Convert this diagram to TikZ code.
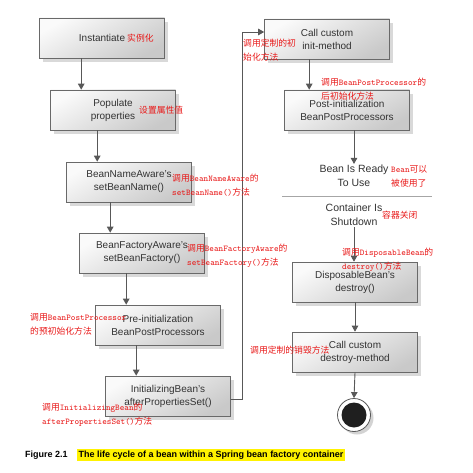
\documentclass[tikz,border=0pt]{standalone}
\usepackage{fontspec}
\setmainfont{Liberation Sans}
\newfontfamily\cjk{Noto Sans CJK SC}
\usetikzlibrary{arrows.meta,shadows,calc}
\definecolor{noteRed}{RGB}{232,24,24}
\definecolor{boxLine}{RGB}{105,105,105}
\definecolor{flowGray}{RGB}{88,88,88}
\newcommand{\zh}[1]{{\cjk #1}}
\newcommand{\code}[1]{{\ttfamily #1}}

\begin{document}
\begin{tikzpicture}[x=1pt, y=-1pt,
  stage/.style={draw=boxLine, line width=0.6pt, top color=gray!4, bottom color=gray!42,
    shading angle=30, drop shadow={shadow xshift=3pt, shadow yshift=-4pt, opacity=0.3},
    minimum width=125pt, minimum height=40pt, align=center, inner sep=2pt,
    text=black!80, font=\fontsize{10}{13}\selectfont},
  state/.style={align=center, inner sep=1pt, text=black!80, font=\fontsize{10.5}{14}\selectfont},
  flow/.style={draw=flowGray, line width=0.9pt, -{Triangle[width=6.5pt,length=6pt]}},
  note/.style={text=noteRed, anchor=west, align=left, inner sep=0pt, font=\fontsize{8.8}{14}\selectfont}]
  \useasboundingbox (0,0) rectangle (472,473);

  % left column
  \node[stage] (inst)  at (102,38)  {Instantiate};
  \node[stage] (pop)   at (113,110) {Populate\\properties};
  \node[stage] (bna)   at (129,182) {BeanNameAware's\\setBeanName()};
  \node[stage] (bfa)   at (142,253) {BeanFactoryAware's\\setBeanFactory()};
  \node[stage] (pre)   at (158,325) {Pre-initialization\\BeanPostProcessors};
  \node[stage] (ibean) at (168,396) {InitializingBean's\\afterPropertiesSet()};

  % right column
  \node[stage] (initm)   at (327,39)  {Call custom\\init-method};
  \node[stage] (post)    at (347,110) {Post-initialization\\BeanPostProcessors};
  \node[state] (ready)   at (354,176) {Bean Is Ready\\To Use};
  \node[state] (shut)    at (354,215) {Container Is\\Shutdown};
  \node[stage] (disp)    at (355,282) {DisposableBean's\\destroy()};
  \node[stage] (destroy) at (355,352) {Call custom\\destroy-method};
  \node[circle, draw=flowGray, line width=0.8pt, fill=white, minimum size=33pt, inner sep=0pt,
    drop shadow={shadow xshift=3pt, shadow yshift=-3pt, opacity=0.35}] (end) at (354,415) {};
  \node[circle, fill=black!88, minimum size=25pt, inner sep=0pt] (endDot) at (end.center) {};

  \draw[gray!70, line width=0.8pt] (282,196) -- (432,196);

  % Arrows
  \foreach \a/\b in {inst/pop, pop/bna, bna/bfa, bfa/pre, pre/ibean}{
    \path ([xshift=31pt]\b.north west) coordinate (tip\b);
    \draw[flow] (tip\b |- \a.south) -- (tip\b);
  }
  \draw[flow] ([yshift=-3pt]ibean.east) -- ++(12,0) |- ([yshift=7pt]initm.west);
  \path ([xshift=25pt]post.north west) coordinate (tippost);
  \draw[flow] (tippost |- initm.south) -- (tippost);
  \draw[flow] (ready.north |- post.south) -- (ready.north);
  \draw[flow] (shut.south) -- (shut.south |- disp.north);
  \draw[flow] (disp.south) -- (destroy.north);
  \draw[flow] (destroy.south) -- (end.north);

  % Notes
  \node[note] (instNote)    at (127,38)  {\zh{实例化}};
  \node[note] (popNote)     at (139,110) {\zh{设置属性值}};
  \node[note] (bnaNote)     at (172,185) {\zh{调用}\code{BeanNameAware}\zh{的}\\\code{setBeanName()}\zh{方法}};
  \node[note] (bfaNote)     at (187,256) {\zh{调用}\code{BeanFactoryAware}\zh{的}\\\code{setBeanFactory()}\zh{方法}};
  \node[note] (preNote)     at (30,324)  {\zh{调用}\code{BeanPostProcessor}\\\zh{的预初始化方法}};
  \node[note] (ibeanNote)   at (42,415)  {\zh{调用}\code{InitializingBean}\zh{的}\\\code{afterPropertiesSet()}\zh{方法}};
  \node[note] (initNote)    at (243,50)  {\zh{调用定制的初}\\\zh{始化方法}};
  \node[note] (postNote)    at (321,89)  {\zh{调用}\code{BeanPostProcessor}\zh{的}\\\zh{后初始化方法}};
  \node[note] (readyNote)   at (391,176) {\code{Bean}\zh{可以}\\\zh{被使用了}};
  \node[note] (shutNote)    at (382,215) {\zh{容器关闭}};
  \node[note] (dispNote)    at (342,260) {\zh{调用}\code{DisposableBean}\zh{的}\\\code{destroy()}\zh{方法}};
  \node[note] (destroyNote) at (250,350) {\zh{调用定制的销毁方法}};

  % Caption
  \node[anchor=west, inner sep=0pt, font=\bfseries\fontsize{9}{11}\selectfont] (fig) at (25,455) {Figure 2.1};
  \node[anchor=west, fill=yellow, inner sep=1.5pt, font=\bfseries\fontsize{9}{11}\selectfont]
    (cap) at (77,455) {The life cycle of a bean within a Spring bean factory container};
\end{tikzpicture}
\end{document}
